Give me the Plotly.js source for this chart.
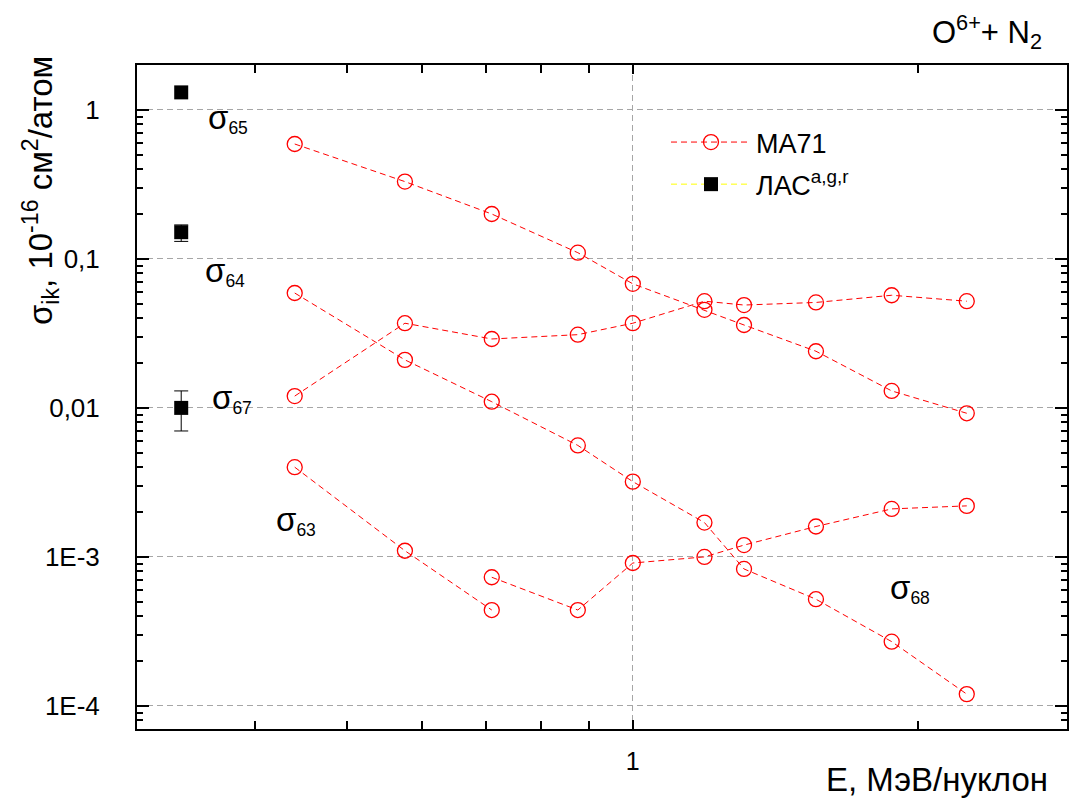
<!DOCTYPE html>
<html>
<head>
<meta charset="utf-8">
<script src="https://cdn.plot.ly/plotly-3.0.1.min.js"></script>
<style>html,body{margin:0;padding:0;background:#fff;}</style>
</head>
<body>
<div id="chart" style="width:1082px;height:801px;"></div>
<script>
// Energy, MeV/nucleon
const energy = [0.44, 0.575, 0.71, 0.875, 1.0, 1.19, 1.31, 1.56, 1.875, 2.25];
// MA71 cross sections (10^-16 cm^2/atom)
const sigma65 = [0.59, 0.33, 0.20, 0.11, 0.068, 0.0455, 0.036, 0.024, 0.013, 0.0092];
const sigma67 = [0.012, 0.037, 0.029, 0.031, 0.037, 0.052, 0.049, 0.051, 0.057, 0.052];
const sigma64 = [0.059, 0.021, 0.011, 0.0056, 0.0032, 0.0017, 0.00083, 0.00052, 0.00027, 0.00012];
const energy63 = [0.44, 0.575, 0.71];
const sigma63 = [0.0040, 0.0011, 0.00044];
const energy68 = [0.71, 0.875, 1.0, 1.19, 1.31, 1.56, 1.875, 2.25];
const sigma68 = [0.00073, 0.00044, 0.00091, 0.0010, 0.0012, 0.0016, 0.0021, 0.0022];
// ЛАС data
const lasEnergy = [0.334, 0.334, 0.334];
const lasSigma = [1.31, 0.151, 0.010];
const lasErrPlus = [0, 0.018, 0.003];
const lasErrMinus = [0, 0.020, 0.003];
// tick labels
const yTickVals = [1e-4, 1e-3, 0.01, 0.1, 1];
const yTickText = ['1E-4', '1E-3', '0,01', '0,1', '1'];
const xTickVals = [1];
const xTickText = ['1'];
const xMinorVals = [0.3, 0.4, 0.5, 0.6, 0.7, 0.8, 0.9, 2];

const yMinorVals = [];
for (let d = -5; d <= 0; d++) for (let k = 2; k <= 9; k++) yMinorVals.push(k * Math.pow(10, d));

const FONT = 'Arial, "Liberation Sans", sans-serif';
const red = 'rgb(255,0,0)';

const maStyle = {
  mode: 'lines+markers',
  line: {color: red, width: 1, dash: '6px,4px'},
  marker: {symbol: 'circle-open', size: 15, color: red, line: {width: 1.3, color: red}},
  legendgroup: 'ma', name: 'MA71', showlegend: false, hoverinfo: 'x+y'
};

const traces = [];
traces.push(Object.assign({}, maStyle, {x: energy, y: sigma65, showlegend: true}));
traces.push(Object.assign({}, maStyle, {x: energy, y: sigma67}));
traces.push(Object.assign({}, maStyle, {x: energy, y: sigma64}));
traces.push(Object.assign({}, maStyle, {x: energy63, y: sigma63}));
traces.push(Object.assign({}, maStyle, {x: energy68, y: sigma68}));

lasSigma.forEach((v, i) => {
  traces.push({
    x: [lasEnergy[i]], y: [v],
    mode: 'lines+markers',
    line: {color: 'rgb(255,255,0)', width: 1, dash: '6px,4px'},
    marker: {symbol: 'square', size: 14, color: 'black'},
    error_y: {type: 'data', symmetric: false, array: [lasErrPlus[i]], arrayminus: [lasErrMinus[i]],
              color: 'black', thickness: 1, width: 7, visible: lasErrPlus[i] > 0},
    name: 'ЛАС<sup>a,g,r</sup>', legendgroup: 'las', showlegend: i === 0
  });
});

// pixel -> paper helpers (plot area 137..1067 x 65..729)
const px = v => (v - 137) / 930;
const py = v => (729 - v) / 664;

const lblFont = {family: FONT, size: 25, color: 'black'};
function sigLabel(sub, xl, yc) {
  return {text: '<span style="font-size:33px">σ</span><sub>' + sub + '</sub>', xref: 'paper', yref: 'paper', x: px(xl), y: py(yc),
          xanchor: 'left', yanchor: 'middle', showarrow: false, font: lblFont};
}

const layout = {
  width: 1082, height: 801,
  margin: {l: 137, r: 15, t: 65, b: 72},
  paper_bgcolor: 'white', plot_bgcolor: 'white',
  font: {family: FONT, color: 'black'},
  title: {text: 'O<sup>6+</sup>+ N<sub>2</sub>', x: 1042 / 1082, xanchor: 'right', y: 1 - 32 / 801, yanchor: 'middle',
          font: {family: FONT, size: 31, color: 'black'}},
  xaxis: {
    type: 'log', range: [Math.log10(0.3), Math.log10(2.87)],
    tickvals: xTickVals, ticktext: xTickText,
    ticks: 'inside', ticklen: 9, tickwidth: 2, tickcolor: 'black',
    showline: true, linecolor: 'black', linewidth: 2, mirror: 'allticks',
    showgrid: true, gridcolor: '#a6a6a6', gridwidth: 1, griddash: '6px,4px',
    zeroline: false, tickfont: {family: FONT, size: 25, color: 'black'}, ticklabelstandoff: 9,
    minor: {tickvals: xMinorVals, ticks: 'inside', ticklen: 8, tickwidth: 2, tickcolor: 'black', showgrid: false}
  },
  yaxis: {
    type: 'log', range: [Math.log10(7e-5), Math.log10(2)],
    tickvals: yTickVals, ticktext: yTickText,
    ticks: 'inside', ticklen: 12, tickwidth: 2, tickcolor: 'black',
    showline: true, linecolor: 'black', linewidth: 2, mirror: 'allticks',
    showgrid: true, gridcolor: '#a6a6a6', gridwidth: 1, griddash: '6px,4px',
    zeroline: false, tickfont: {family: FONT, size: 26, color: 'black'}, ticklabelstandoff: 30,
    minor: {tickvals: yMinorVals, ticks: 'inside', ticklen: 6, tickwidth: 2, tickcolor: 'black', showgrid: false}
  },
  showlegend: true,
  legend: {x: px(666), y: py(118), xanchor: 'left', yanchor: 'top', bgcolor: 'rgba(0,0,0,0)',
           font: {family: FONT, size: 27, color: 'black'}, itemwidth: 80,
           traceorder: 'grouped', tracegroupgap: 4},
  annotations: [
    sigLabel('65', 206, 118),
    sigLabel('64', 203, 271),
    sigLabel('67', 210, 398),
    sigLabel('63', 274, 520),
    sigLabel('68', 888, 588),
    {text: 'E, МэВ/нуклон', xref: 'paper', yref: 'paper', x: px(1050), y: py(779), xanchor: 'right', yanchor: 'middle',
     showarrow: false, font: {family: FONT, size: 33, color: 'black'}},
    {text: 'σ<sub>ik</sub>, 10<sup>-16</sup> см<sup>2</sup>/атом', xref: 'paper', yref: 'paper', x: px(40), y: py(191),
     xanchor: 'center', yanchor: 'middle', textangle: -90, showarrow: false,
     font: {family: FONT, size: 33, color: 'black'}}
  ]
};

Plotly.newPlot('chart', traces, layout, {displayModeBar: false, staticPlot: true});
</script>
</body>
</html>
